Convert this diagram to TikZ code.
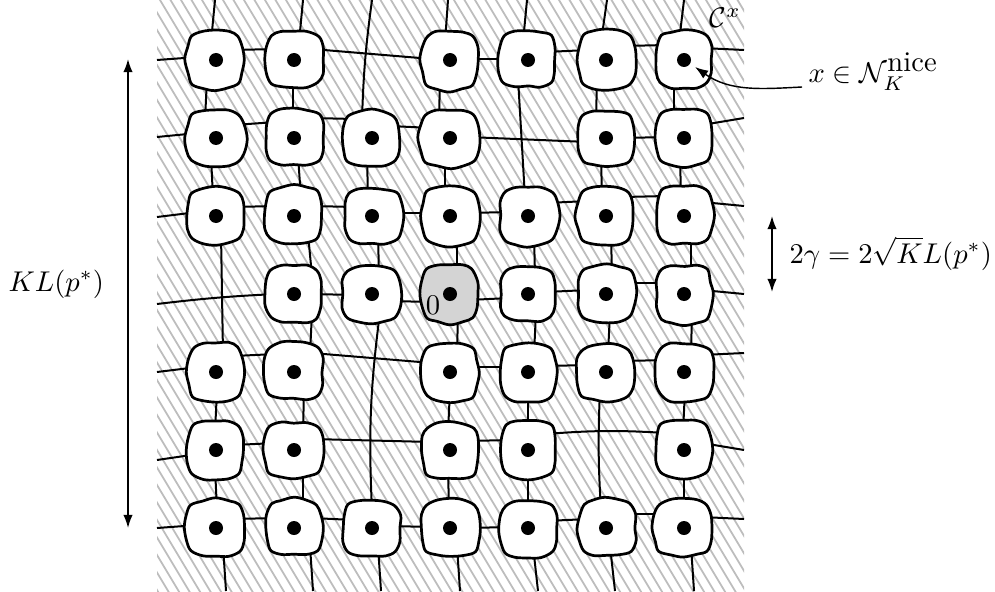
\documentclass[tikz,border=0pt]{standalone}
\usetikzlibrary{calc,arrows.meta}
\definecolor{hatchgray}{gray}{0.74}
\definecolor{cellgray}{gray}{0.83}
\begin{document}
\begin{tikzpicture}[x=0.35pt,y=-0.35pt,
  link/.style={line width=0.7pt},
  cellbox/.style={line width=0.95pt, fill=white, line join=round},
  dot/.style={circle, fill=black, inner sep=0pt, minimum size=4.9pt},
  hatchline/.style={line width=0.62pt, draw=hatchgray},
  dimarrow/.style={line width=0.55pt, {Latex[length=4.6pt,width=3.3pt]}-{Latex[length=4.6pt,width=3.3pt]}},
]
\useasboundingbox (0,0) rectangle (995,591);
\pgfmathsetseed{4711}
% hatched region
\begin{scope}
\clip (157,0) rectangle (744,591);
\foreach \i in {-36,...,57} \draw[hatchline] ({157+10.5*\i},-5) -- ++(360,600);
\end{scope}
% grid coordinates
\foreach \r in {1,...,7} \foreach \c in {1,...,7}
  \coordinate (n-\r-\c) at ({216+78*(\c-1)},{60+78*(\r-1)});
% border coordinates
\foreach \r/\yl/\yr in {1/60/50,2/137/118,3/217/206,4/304/294,5/372/353,6/460/450,7/528/519}{
  \coordinate (L-\r) at (157,\yl);
  \coordinate (R-\r) at (744,\yr);
}
\foreach \c/\xt/\xb in {1/215/226,2/303/313,3/372/381,4/448/460,5/527/538,6/607/615,7/684/694}{
  \coordinate (T-\c) at (\xt,0);
  \coordinate (B-\c) at (\xb,591);
}
% row connectors: left and right borders
\foreach \r/\dl/\dr in {1/-3/-12,2/-5/-13,3/-4/-14,5/-5/-17,6/4/-7,7/-3/-11}{
  \draw[link] (L-\r) -- ($(n-\r-1)+(-18,\dl)$);
  \draw[link] ($(n-\r-7)+(18,\dr)$) -- (R-\r);
}
\draw[link] (L-4) to[bend left=2] ($(n-4-2)+(-18,0)$);
\draw[link] ($(n-4-7)+(18,-4)$) -- (R-4);
% column connectors: top and bottom borders
\foreach \c/\dt/\db in {1/-5/7,2/5/16,4/-5/7,5/-5/5,6/-5/4,7/-5/7}{
  \draw[link] (T-\c) -- ($(n-1-\c)+(\dt,-18)$);
  \draw[link] ($(n-7-\c)+(\db,18)$) -- (B-\c);
}
\draw[link] (T-3) to[bend right=3] ($(n-2-3)+(-10,-18)$);
\draw[link] ($(n-7-3)+(6,18)$) -- (B-3);
% horizontal connectors between cells
\foreach \r/\a/\b/\da/\db in {
 1/1/2/-10/-11, 1/2/4/-11/-1, 1/4/5/-1/-1, 1/5/6/-8/-10, 1/6/7/-14/-15,
 2/1/2/-13/-16, 2/2/3/-20/-19, 2/3/4/-12/-10, 2/4/6/-1/4, 2/6/7/0/-1,
 3/1/2/-9/-10, 3/2/3/-10/-9, 3/3/4/-3/-3, 3/4/5/-3/-4, 3/5/6/-13/-15, 3/6/7/-19/-20,
 4/2/3/0/1, 4/3/4/7/8, 4/4/5/6/4, 4/5/6/-2/-4, 4/6/7/-11/-11,
 5/1/2/-16/-18, 5/2/4/-19/-9, 5/4/5/-5/-5, 5/5/6/-6/-7, 5/6/7/-11/-12,
 6/1/2/-5/-7, 6/2/4/-11/-8, 6/4/5/-9/-10,
 7/1/2/-9/-10, 7/2/3/-10/-8, 7/3/4/-2/-1, 7/4/5/0/-1, 7/5/6/-7/-9, 7/6/7/-14/-14}{
  \draw[link] ($(n-\r-\a)+(18,\da)$) -- ($(n-\r-\b)+(-18,\db)$);
}
\draw[link] ($(n-6-5)+(18,-16)$) to[bend left=4] ($(n-6-7)+(-18,-17)$);
% vertical connectors between cells
\foreach \c/\a/\b/\da/\db in {
 1/1/2/-9/-11, 1/2/3/-5/-3, 1/3/5/5/7, 1/5/6/1/-1, 1/6/7/-1/1,
 2/1/2/-1/-1, 2/2/3/4/7, 2/3/4/14/18, 2/4/5/18/16, 2/5/6/10/9, 2/6/7/9/9,
 3/2/3/-5/-4, 3/3/4/6/7,
 4/1/2/-10/-11, 4/2/3/-5/-5, 4/3/4/7/7, 4/4/5/8/7, 4/5/6/0/-2, 4/6/7/-2/-1,
 5/1/3/-10/-3, 5/3/4/6/7, 5/4/5/8/6, 5/5/6/0/0, 5/6/7/0/0,
 6/1/2/-9/-10, 6/2/3/-5/-4, 6/3/4/5/6, 6/4/5/4/2,
 7/1/2/-10/-10, 7/2/3/-4/-3, 7/3/4/7/7, 7/4/5/8/7, 7/5/6/1/-1, 7/6/7/0/0}{
  \draw[link] ($(n-\a-\c)+(\da,18)$) -- ($(n-\b-\c)+(\db,-18)$);
}
\draw[link] ($(n-4-3)+(8,18)$) to[bend right=5] ($(n-7-3)+(0,-18)$);
\draw[link] ($(n-5-6)+(-6,18)$) to[bend right=3] ($(n-7-6)+(-5,-18)$);
% cells
\foreach \r/\c/\fc in {1/1/white,1/2/white,1/4/white,1/5/white,1/6/white,1/7/white,
  2/1/white,2/2/white,2/3/white,2/4/white,2/6/white,2/7/white,
  3/1/white,3/2/white,3/3/white,3/4/white,3/5/white,3/6/white,3/7/white,
  4/2/white,4/3/white,4/4/cellgray,4/5/white,4/6/white,4/7/white,
  5/1/white,5/2/white,5/4/white,5/5/white,5/6/white,5/7/white,
  6/1/white,6/2/white,6/4/white,6/5/white,6/7/white,
  7/1/white,7/2/white,7/3/white,7/4/white,7/5/white,7/6/white,7/7/white}{
  \pgfmathsetmacro{\cst}{28+1.5*rand}
  \pgfmathsetmacro{\csr}{28+1.5*rand}
  \pgfmathsetmacro{\csb}{28+1.5*rand}
  \pgfmathsetmacro{\csl}{28+1.5*rand}
  \pgfmathsetmacro{\cmt}{\cst+1.2+1.8*rand}
  \pgfmathsetmacro{\cmr}{\csr+1.2+1.8*rand}
  \pgfmathsetmacro{\cmb}{\csb+1.2+1.8*rand}
  \pgfmathsetmacro{\cml}{\csl+1.2+1.8*rand}
  \begin{scope}[shift={(n-\r-\c)}]
  \draw[cellbox, fill=\fc] plot[smooth cycle, tension=0.55] coordinates {
    (-13+rand,-\cst+0.8*rand) (rand,-\cmt) (13+rand,-\cst+0.8*rand)
    ({0.84*\csr+rand},{-0.84*\cst+rand})
    (\csr+0.8*rand,-13+rand) (\cmr,rand) (\csr+0.8*rand,13+rand)
    ({0.84*\csr+rand},{0.84*\csb+rand})
    (13+rand,\csb+0.8*rand) (rand,\cmb) (-13+rand,\csb+0.8*rand)
    ({-0.84*\csl+rand},{0.84*\csb+rand})
    (-\csl+0.8*rand,13+rand) (-\cml,rand) (-\csl+0.8*rand,-13+rand)
    ({-0.84*\csl+rand},{-0.84*\cst+rand})};
  \end{scope}
  \node[dot] (d-\r-\c) at (n-\r-\c) {};
}
\node[anchor=base] (zero) at (433,314) {$0$};
% labels
\node[anchor=base west, inner sep=0pt] (cx) at (709,28) {$\mathcal{C}^x$};
\node[anchor=base west, inner sep=0pt] (nice) at (808,82) {$x\in\mathcal{N}_K^{\mbox{nice}}$};
\coordinate (annstart) at (802,87);
\draw[line width=0.5pt, -{Latex[length=4.6pt,width=3.3pt]}] (annstart) to[out=183,in=-35] ($(d-1-7)+(11,7)$);
\coordinate (kltop) at (128,59);
\coordinate (klbot) at (128,528);
\draw[dimarrow] (kltop) -- (klbot);
\node[anchor=base west, inner sep=0pt] (kl) at (8,291) {$KL(p^*)$};
\coordinate (gtop) at (772,216);
\coordinate (gbot) at (772,292);
\draw[dimarrow] (gtop) -- (gbot);
\node[anchor=base west, inner sep=0pt] (gam) at (789,263) {$2\gamma = 2\sqrt{K}L(p^*)$};
\end{tikzpicture}
\end{document}
